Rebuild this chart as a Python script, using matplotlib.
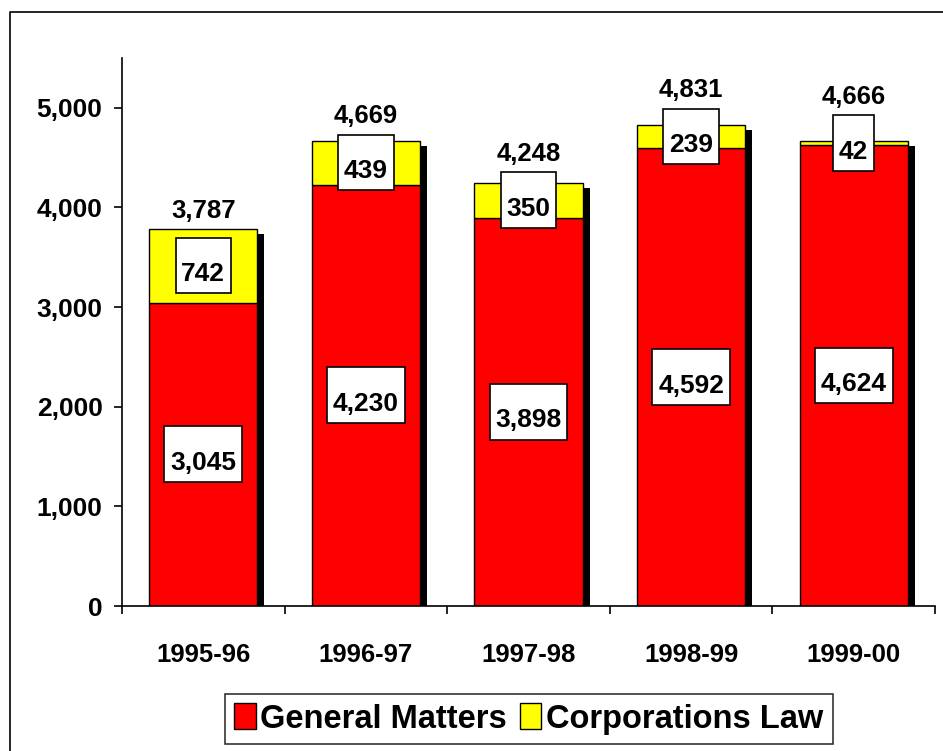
import matplotlib
matplotlib.use("Agg")
from matplotlib import pyplot as plt
from matplotlib.path import Path
from matplotlib.lines import Line2D
import numpy as np

years = ["1995-96", "1996-97", "1997-98", "1998-99", "1999-00"]
general = [3045, 4230, 3898, 4592, 4624]
corporations = [742, 439, 350, 239, 42]
totals = [3787, 4669, 4248, 4831, 4666]

plt.rcParams['font.family'] = ['Liberation Sans', 'DejaVu Sans']
plt.rcParams['font.weight'] = 'bold'


def label_box(x0, y0, width, height, mutation_size):
    # excel style label box: more room above the digits than below
    px = 0.22 * mutation_size
    top = 0.92 * mutation_size
    bot = 0.28 * mutation_size
    x0, y0 = x0 - px, y0 - bot
    w, h = width + 2 * px, height + top + bot
    return Path([(x0, y0), (x0 + w, y0), (x0 + w, y0 + h), (x0, y0 + h), (x0, y0)],
                closed=True)


fig = plt.figure(figsize=(9.43, 7.51), dpi=100)
ax = fig.add_axes([122 / 943, 145 / 751, 813 / 943, 548 / 751])

x = np.arange(len(years))
w = 0.665
gen = np.array(general)
corp = np.array(corporations)

# drop shadow behind each stack
ax.bar(x + 0.043, gen + corp - 50, w, color="black", zorder=1)
ax.bar(x, gen, w, color="#FF0000", edgecolor="black", linewidth=1, zorder=2,
       label="General Matters")
ax.bar(x, corp, w, bottom=gen, color="#FFFF00", edgecolor="black", linewidth=1,
       zorder=2, label="Corporations Law")

box = dict(boxstyle=label_box, facecolor="white", edgecolor="black", linewidth=1.2)
half_box = 286
for i in range(len(years)):
    ax.annotate(f"{general[i]:,}", (x[i], gen[i] / 2), xytext=(0, -6),
                textcoords="offset points", ha="center", va="center",
                fontsize=19, bbox=box, zorder=5)
    yc = gen[i] + corp[i] / 2
    ax.annotate(f"{corporations[i]:,}", (x[i], yc), xytext=(0, -6),
                textcoords="offset points", ha="center", va="center",
                fontsize=19, bbox=box, zorder=5)
    top = max(totals[i], yc + half_box)
    ax.annotate(f"{totals[i]:,}", (x[i], top), xytext=(0, 13),
                textcoords="offset points", ha="center", va="center", fontsize=18.5)

ax.set_xlim(-0.5, 4.5)
ax.set_ylim(0, 5500)
ax.set_yticks(range(0, 6000, 1000))
ax.set_yticklabels([f"{v:,}" for v in range(0, 6000, 1000)], fontsize=19)
ax.tick_params(axis="y", length=6, width=1.2, pad=8)

ax.set_xticks(np.arange(-0.5, 5, 1))
ax.set_xticklabels([])
ax.tick_params(axis="x", which="major", length=6, width=1.2)
ax.set_xticks(x, minor=True)
ax.set_xticklabels(years, minor=True, fontsize=18.5)
ax.tick_params(axis="x", which="minor", length=0, pad=27)

for s in ["top", "right"]:
    ax.spines[s].set_visible(False)
for s in ["left", "bottom"]:
    ax.spines[s].set_linewidth(1.2)

handles = [plt.Rectangle((0, 0), 1, 1, facecolor="#FF0000", edgecolor="black"),
           plt.Rectangle((0, 0), 1, 1, facecolor="#FFFF00", edgecolor="black")]
leg = fig.legend(handles, ["General Matters", "Corporations Law"], ncol=2,
                 loc="center", bbox_to_anchor=(529 / 943, 1 - 719 / 751),
                 bbox_transform=fig.transFigure, fontsize=23.5, frameon=True,
                 fancybox=False, edgecolor="black", handlelength=0.65,
                 handleheight=0.85, handletextpad=0.15, columnspacing=0.4,
                 borderpad=0.28)
leg.get_frame().set_linewidth(1.2)

# outer chart-area border (right and bottom edges fall outside the picture)
fig.add_artist(Line2D([10 / 943, 10 / 943, 1], [0, 1 - 12 / 751, 1 - 12 / 751],
                      transform=fig.transFigure, color="black", linewidth=1.2))

fig.savefig("out.png", dpi=100)
